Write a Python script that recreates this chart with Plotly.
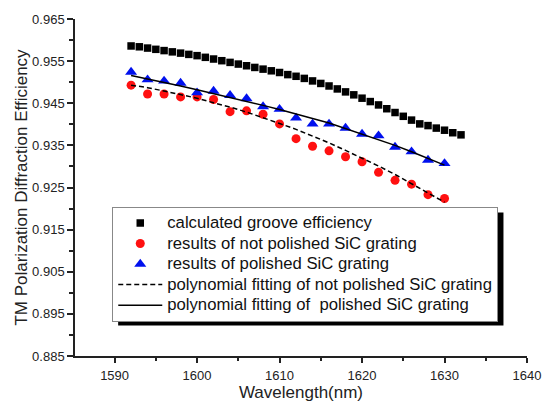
import plotly.graph_objects as go

# Data
wl_calc = list(range(1592, 1633))
eff_calc = [0.9586, 0.9584, 0.9581, 0.9578, 0.9575, 0.9572, 0.9569, 0.9566, 0.9563,
            0.9559, 0.9555, 0.9551, 0.9547, 0.9543, 0.9539, 0.9535, 0.9531, 0.9527,
            0.9523, 0.9518, 0.9514, 0.9509, 0.9503, 0.9497, 0.9491, 0.9484, 0.9477,
            0.9470, 0.9462, 0.9454, 0.9446, 0.9437, 0.9428, 0.9419, 0.9410, 0.9401,
            0.9397, 0.9391, 0.9386, 0.9380, 0.9375]

wl_meas = list(range(1592, 1631, 2))
eff_not_polished = [0.9493, 0.9472, 0.9472, 0.9465, 0.9465, 0.9459, 0.9430, 0.9432,
                    0.9424, 0.9401, 0.9366, 0.9348, 0.9337, 0.9323, 0.9311, 0.9286,
                    0.9267, 0.9258, 0.9233, 0.9224]
eff_polished = [0.9524, 0.9506, 0.9503, 0.9498, 0.9475, 0.9479, 0.9469, 0.9461,
                0.9442, 0.9436, 0.9415, 0.9401, 0.9401, 0.9391, 0.9377, 0.9373,
                0.9346, 0.9335, 0.9315, 0.9307]
fit_not_polished = [0.9493, 0.9487, 0.9479, 0.9471, 0.9462, 0.9451, 0.9441, 0.9429,
                    0.9416, 0.9402, 0.9388, 0.9372, 0.9356, 0.9338, 0.9320, 0.9301,
                    0.9281, 0.9260, 0.9237, 0.9215]
fit_polished = [0.9516, 0.9508, 0.9500, 0.9491, 0.9482, 0.9473, 0.9464, 0.9455,
                0.9445, 0.9435, 0.9425, 0.9414, 0.9403, 0.9390, 0.9377, 0.9364,
                0.9350, 0.9335, 0.9319, 0.9303]

x_ticks = [1590, 1600, 1610, 1620, 1630, 1640]
y_ticks = [0.885, 0.895, 0.905, 0.915, 0.925, 0.935, 0.945, 0.955, 0.965]

names = ["calculated groove efficiency",
         "results of not polished SiC grating",
         "results of polished SiC grating",
         "polynomial fitting of not polished SiC grating",
         "polynomial fitting of \u00a0polished SiC grating"]
legend_names = ['<span style="font-size:16.7px">%s</span>' % n for n in names]

fig = go.Figure()
fig.add_trace(go.Scatter(x=wl_calc, y=eff_calc, mode="markers", name=legend_names[0],
                         marker=dict(symbol="square", size=7.5, color="black")))
fig.add_trace(go.Scatter(x=wl_meas, y=eff_not_polished, mode="markers", name=legend_names[1],
                         marker=dict(symbol="circle", size=9, color="#ff1010")))
fig.add_trace(go.Scatter(x=wl_meas, y=eff_polished, mode="markers", name=legend_names[2],
                         marker=dict(symbol="triangle-up", size=10.5, color="#0010ee")))
fig.add_trace(go.Scatter(x=wl_meas, y=fit_not_polished, mode="lines", name=legend_names[3],
                         line=dict(color="black", width=1.5, dash="5px,3px")))
fig.add_trace(go.Scatter(x=wl_meas, y=fit_polished, mode="lines", name=legend_names[4],
                         line=dict(color="black", width=1.5)))

L, R, T, B = 75, 17, 13, 56
W, H = 553, 412
pw, ph = W - L - R, H - T - B

def px_x(p):
    return (p - L) / pw

def px_y(p):
    return (H - B - p) / ph

# legend drop shadow
fig.add_shape(type="rect", xref="paper", yref="paper",
              x0=px_x(119), x1=px_x(512), y0=px_y(325), y1=px_y(210),
              fillcolor="black", line=dict(width=0), layer="above")

font = "Liberation Sans, Arial, sans-serif"
fig.update_layout(
    width=W, height=H,
    margin=dict(l=L, r=R, t=T, b=B),
    plot_bgcolor="white", paper_bgcolor="white",
    font=dict(family=font, color="#222", size=13),
    showlegend=True,
    legend=dict(x=px_x(113), y=px_y(204), xanchor="left", yanchor="top",
                bgcolor="white", bordercolor="#888", borderwidth=1,
                font=dict(size=13.5, family=font, color="#111"),
                itemwidth=44, tracegroupgap=0),
    xaxis=dict(range=[1585.2, 1640], tickmode="array", tickvals=x_ticks,
               ticktext=[str(v) for v in x_ticks],
               showgrid=False, zeroline=False, showline=True, linecolor="#222",
               linewidth=1.5, ticks="outside", ticklen=5, tickwidth=1.5, tickcolor="#222",
               tickfont=dict(size=13), ticklabelstandoff=2,
               minor=dict(tickvals=[1595, 1605, 1615, 1625, 1635], ticks="outside",
                          ticklen=3, tickwidth=1.5, tickcolor="#222"),
               title=dict(text="Wavelength(nm)", font=dict(size=17), standoff=2)),
    yaxis=dict(range=[0.885, 0.965], tickmode="array", tickvals=y_ticks,
               ticktext=["%.3f" % v for v in y_ticks],
               showgrid=False, zeroline=False, showline=True, linecolor="#222",
               linewidth=1.5, ticks="outside", ticklen=6, tickwidth=1.5, tickcolor="#222",
               tickfont=dict(size=13),
               minor=dict(tickvals=[0.89, 0.90, 0.91, 0.92, 0.93, 0.94, 0.95, 0.96],
                          ticks="outside", ticklen=4, tickwidth=1.5, tickcolor="#222"),
               title=dict(text="TM Polarization Diffraction Efficiency",
                          font=dict(size=17), standoff=0)),
)

fig.write_html("out.html")
